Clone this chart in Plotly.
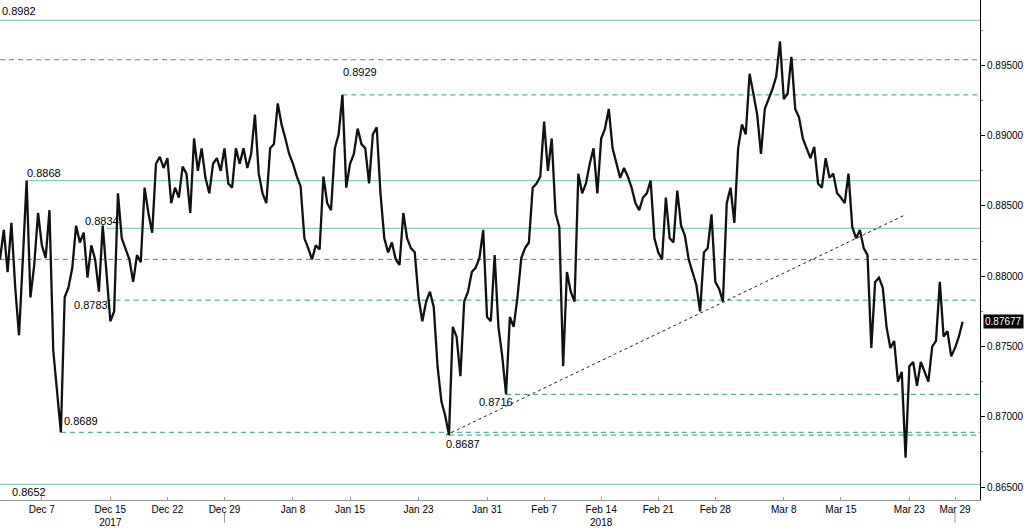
import pandas as pd
import plotly.graph_objects as go

# ---- data: EUR/GBP style intraday series, three readings per weekday (00:00, 08:00, 16:00)
days = pd.bdate_range("2017-12-01", "2018-03-29")
sessions = ["00:00", "08:00", "16:00"]
prices = [
    [None, 0.8812, 0.8833],      # Dec 1
    [0.8803, 0.8838, 0.8792],    # Dec 4
    [0.8758, 0.8812, 0.8868],
    [0.8785, 0.8808, 0.8845],
    [0.8822, 0.8813, 0.8847],    # Dec 7
    [0.8747, 0.8715, 0.8689],
    [0.8785, 0.8792, 0.8806],    # Dec 11
    [0.8836, 0.8824, 0.8831],
    [0.8799, 0.8822, 0.8812],
    [0.8789, 0.8836, 0.8799],
    [0.8768, 0.8775, 0.8859],    # Dec 15
    [0.8827, 0.8819, 0.8812],    # Dec 18
    [0.8796, 0.8815, 0.8810],
    [0.8863, 0.8845, 0.8831],
    [0.8880, 0.8885, 0.8877],
    [0.8884, 0.8852, 0.8863],    # Dec 22
    [0.8856, 0.8878, 0.8873],    # Dec 25
    [0.8845, 0.8898, 0.8875],
    [0.8891, 0.8870, 0.8859],
    [0.8880, 0.8884, 0.8875],
    [0.8891, 0.8866, 0.8863],    # Dec 29
    [0.8891, 0.8880, 0.8891],    # Jan 1
    [0.8877, 0.8887, 0.8915],
    [0.8873, 0.8859, 0.8852],
    [0.8891, 0.8894, 0.8923],
    [0.8908, 0.8898, 0.8887],
    [0.8880, 0.8871, 0.8864],    # Jan 8
    [0.8827, 0.8820, 0.8812],
    [0.8822, 0.8819, 0.8871],
    [0.8852, 0.8847, 0.8891],
    [0.8901, 0.8929, 0.8863],
    [0.8880, 0.8887, 0.8905],    # Jan 15
    [0.8894, 0.8891, 0.8866],
    [0.8901, 0.8906, 0.8859],
    [0.8827, 0.8817, 0.8824],
    [0.8812, 0.8808, 0.8845],
    [0.8827, 0.8820, 0.8817],    # Jan 22
    [0.8785, 0.8768, 0.8782],
    [0.8789, 0.8778, 0.8736],
    [0.8711, 0.8701, 0.8687],
    [0.8764, 0.8757, 0.8729],
    [0.8782, 0.8789, 0.8803],    # Jan 29
    [0.8806, 0.8813, 0.8833],
    [0.8771, 0.8768, 0.8815],
    [0.8764, 0.8743, 0.8716],
    [0.8771, 0.8764, 0.8785],
    [0.8813, 0.8820, 0.8824],    # Feb 5
    [0.8863, 0.8866, 0.8871],
    [0.8910, 0.8875, 0.8898],
    [0.8845, 0.8835, 0.8736],
    [0.8803, 0.8789, 0.8782],
    [0.8873, 0.8859, 0.8866],    # Feb 12
    [0.8880, 0.8891, 0.8859],
    [0.8898, 0.8905, 0.8919],
    [0.8891, 0.8880, 0.8870],
    [0.8877, 0.8871, 0.8863],
    [0.8852, 0.8847, 0.8856],    # Feb 19
    [0.8859, 0.8868, 0.8827],
    [0.8817, 0.8812, 0.8856],
    [0.8827, 0.8824, 0.8861],
    [0.8836, 0.8829, 0.8812],
    [0.8803, 0.8794, 0.8775],    # Feb 26
    [0.8817, 0.8820, 0.8844],
    [0.8796, 0.8791, 0.8782],
    [0.8852, 0.8863, 0.8838],
    [0.8891, 0.8908, 0.8901],
    [0.8944, 0.8930, 0.8915],    # Mar 5
    [0.8887, 0.8919, 0.8926],
    [0.8933, 0.8942, 0.8967],
    [0.8926, 0.8930, 0.8956],
    [0.8919, 0.8913, 0.8898],
    [0.8891, 0.8884, 0.8892],    # Mar 12
    [0.8866, 0.8863, 0.8884],
    [0.8870, 0.8873, 0.8859],
    [0.8856, 0.8852, 0.8873],
    [0.8835, 0.8827, 0.8833],
    [0.8820, 0.8815, 0.8749],    # Mar 19
    [0.8796, 0.8799, 0.8792],
    [0.8764, 0.8749, 0.8754],
    [0.8725, 0.8732, 0.8671],
    [0.8736, 0.8739, 0.8722],
    [0.8739, 0.8732, 0.8725],    # Mar 26
    [0.8750, 0.8754, 0.8796],
    [0.8757, 0.8761, 0.8743],
    [0.8749, 0.8757, 0.87677],
]
last_price = 0.87677

# horizontal reference levels: (value, start time or None for full width)
solid_levels = [(0.8982, None), (0.8868, "2017-12-05 16:00"), (0.8834, "2017-12-14 16:00"), (0.8652, None)]
dashed_levels = [(0.8954, None), (0.8929, "2018-01-12 08:00"), (0.8812, None), (0.8783, "2017-12-14 16:00"),
                 (0.8716, "2018-02-01 16:00"), (0.8689, "2017-12-08 16:00"), (0.8687, "2018-01-25 16:00")]
# level labels: text, anchor time, value, vertical shift (px)
level_labels = [
    ("0.8929", "2018-01-12 05:00", 0.8929, 23),
    ("0.8868", "2017-12-05 12:00", 0.8868, 8),
    ("0.8834", "2017-12-12 14:00", 0.8834, 7),
    ("0.8783", "2017-12-11 15:00", 0.8783, -5),
    ("0.8689", "2017-12-08 18:00", 0.8689, 11),
    ("0.8716", "2018-01-30 02:40", 0.8716, -8),
    ("0.8687", "2018-01-25 05:30", 0.8687, -9),
    ("0.8652", "2017-12-04 04:50", 0.8652, -8),
]
trend_start = ("2018-01-25 10:00", 0.8687)
trend_end = ("2018-03-22 17:00", 0.8844)

tick_dates = ["2017-12-07", "2017-12-15", "2017-12-22", "2017-12-29", "2018-01-08", "2018-01-15",
              "2018-01-23", "2018-01-31", "2018-02-07", "2018-02-14", "2018-02-21", "2018-02-28",
              "2018-03-08", "2018-03-15", "2018-03-23", "2018-03-29"]
tick_text = ["Dec 7", "Dec 15<br>2017", "Dec 22", "Dec 29", "Jan 8", "Jan 15", "Jan 23", "Jan 31",
             "Feb 7", "Feb 14<br>2018", "Feb 21", "Feb 28", "Mar 8", "Mar 15", "Mar 23", "Mar 29"]

x_start, x_end = "2017-12-01 08:00", "2018-04-02 04:30"
y_min, y_max = 0.864085, 0.89965

# ---- build series
xs, ys = [], []
for d, trip in zip(days, prices):
    for s, v in zip(sessions, trip):
        if v is None:
            continue
        xs.append(pd.Timestamp(f"{d.date()} {s}"))
        ys.append(v)

SOLID = "#8ccdb6"
DASH = "#2f9f7e"
FONT = "Liberation Sans"

fig = go.Figure()
fig.add_trace(go.Scatter(x=xs, y=ys, mode="lines", line=dict(color="#111111", width=2.3),
                         hoverinfo="skip"))

shapes = []
for v, st in solid_levels:
    shapes.append(dict(type="line", xref="x", yref="y", x0=st or x_start, x1=x_end, y0=v, y1=v,
                       line=dict(color=SOLID, width=1.2), layer="below"))
for v, st in dashed_levels:
    shapes.append(dict(type="line", xref="x", yref="y", x0=st or x_start, x1=x_end, y0=v, y1=v,
                       line=dict(color=DASH, width=1, dash="5px,4px"), layer="below"))
shapes.append(dict(type="line", xref="x", yref="y", x0=trend_start[0], y0=trend_start[1],
                   x1=trend_end[0], y1=trend_end[1], line=dict(color="#222222", width=1, dash="3px,3px")))
for d in ["2017-12-29", "2018-03-29"]:
    shapes.append(dict(type="line", xref="x", yref="paper", x0=d, x1=d, y0=-0.026, y1=-0.046,
                       line=dict(color="#999999", width=1)))

annotations = []
annotations.append(dict(xref="paper", yref="y", x=0, y=0.8982, text="0.8982", showarrow=False,
                        xanchor="left", yanchor="middle", xshift=0, yshift=9,
                        font=dict(family=FONT, size=11, color="black")))
for txt, t, v, sh in level_labels:
    annotations.append(dict(xref="x", yref="y", x=t, y=v, text=txt, showarrow=False,
                            xanchor="left", yanchor="middle", yshift=sh,
                            font=dict(family=FONT, size=11, color="black")))
annotations.append(dict(xref="paper", yref="y", x=1, y=last_price, text="0.87677", showarrow=False,
                        xanchor="left", yanchor="middle", xshift=3, bgcolor="black", borderpad=1,
                        font=dict(family=FONT, size=10, color="white")))

fig.update_layout(
    width=1024, height=528,
    margin=dict(l=0, r=42, t=0, b=23),
    paper_bgcolor="white", plot_bgcolor="white",
    showlegend=False,
    font=dict(family=FONT, size=10, color="black"),
    shapes=shapes, annotations=annotations,
)
fig.update_xaxes(
    type="date", range=[x_start, x_end],
    rangebreaks=[dict(bounds=["sat", "mon"])],
    tickvals=tick_dates, ticktext=tick_text,
    showgrid=False, zeroline=False,
    showline=True, linecolor="#9a9a9a", linewidth=1,
    ticks="inside", ticklen=3, tickcolor="#9a9a9a",
    tickfont=dict(family=FONT, size=10, color="black"),
)
fig.update_yaxes(
    side="right", range=[y_min, y_max],
    tick0=0.865, dtick=0.005, tickformat=".5f",
    showgrid=False, zeroline=False,
    showline=True, linecolor="black", linewidth=1,
    ticks="outside", ticklen=4, tickcolor="black",
    minor=dict(dtick=0.0025, ticks="outside", ticklen=2, tickcolor="#777777"),
    tickfont=dict(family=FONT, size=10, color="black"),
)

fig.write_html("out.html", config={"displayModeBar": False},
               post_script="document.body.style.margin='0';")
